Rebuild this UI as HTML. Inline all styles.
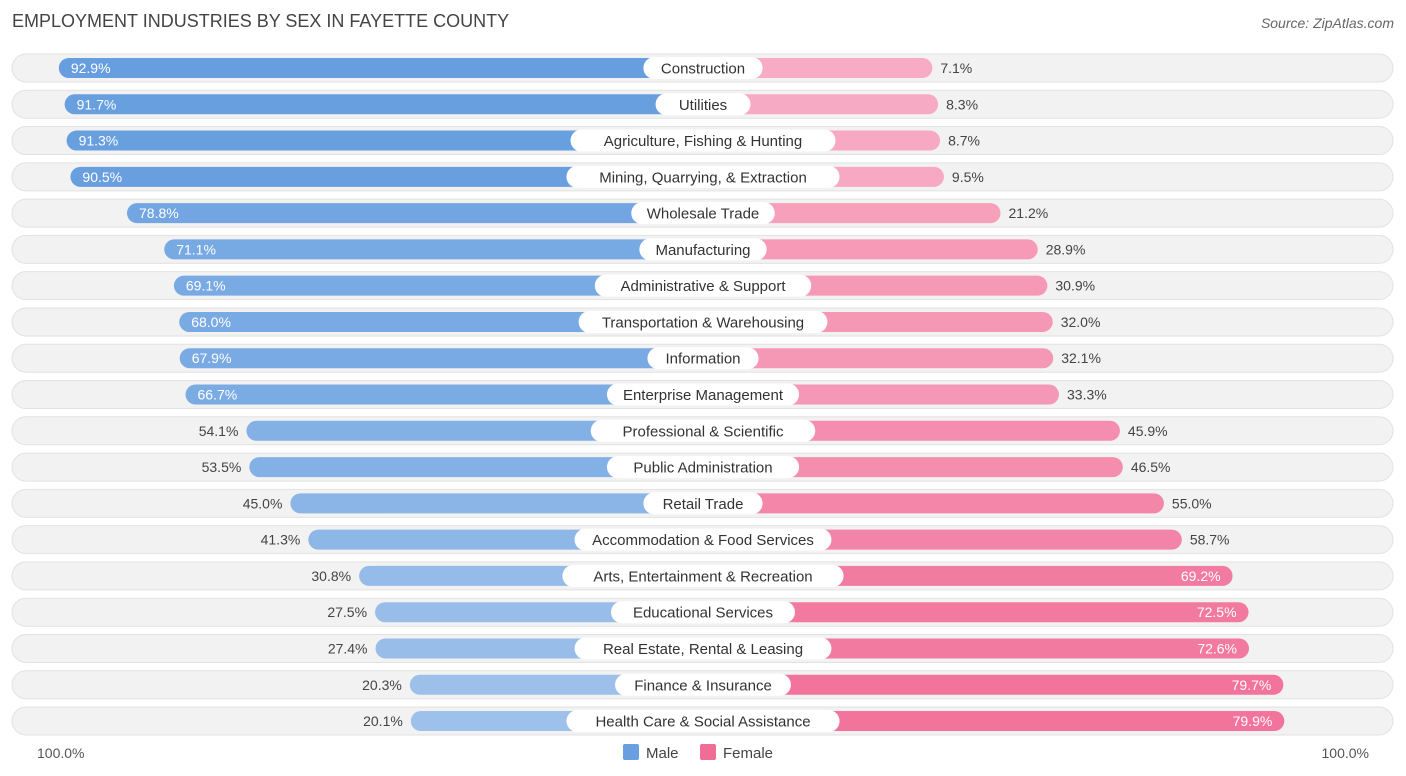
<!DOCTYPE html>
<html><head><meta charset="utf-8"><style>
body{margin:0;width:1406px;height:776px;background:#fff;font-family:"Liberation Sans",sans-serif;overflow:hidden;position:relative}
.t{position:absolute}
</style></head><body>
<div class="t" style="left:12px;top:11px;font-size:18px;color:#444">EMPLOYMENT INDUSTRIES BY SEX IN FAYETTE COUNTY</div>
<div class="t" style="right:12px;top:15px;font-size:14px;color:#666;font-style:italic">Source: ZipAtlas.com</div>
<svg id="c" width="1406" height="776" style="position:absolute;left:0;top:0"></svg>
<script>
const categories=["Construction","Utilities","Agriculture, Fishing & Hunting","Mining, Quarrying, & Extraction","Wholesale Trade","Manufacturing","Administrative & Support","Transportation & Warehousing","Information","Enterprise Management","Professional & Scientific","Public Administration","Retail Trade","Accommodation & Food Services","Arts, Entertainment & Recreation","Educational Services","Real Estate, Rental & Leasing","Finance & Insurance","Health Care & Social Assistance"];
const maleValues=[92.9,91.7,91.3,90.5,78.8,71.1,69.1,68.0,67.9,66.7,54.1,53.5,45.0,41.3,30.8,27.5,27.4,20.3,20.1];
const femaleValues=[7.1,8.3,8.7,9.5,21.2,28.9,30.9,32.0,32.1,33.3,45.9,46.5,55.0,58.7,69.2,72.5,72.6,79.7,79.9];
const svg=document.getElementById('c'),NS='http://www.w3.org/2000/svg';
const cx=703,base=195,k=4.835,y0=68,pitch=36.28,bh=20;
function len(v){return base+k*v;}
function rowY(i){return y0+i*pitch;}
function mk(t,a){const e=document.createElementNS(NS,t);for(const n in a)e.setAttribute(n,a[n]);svg.appendChild(e);return e;}
function mix(c1,c2,t){return 'rgb('+c1.map((c,i)=>Math.round(c+(c2[i]-c)*t)).join(',')+')';}
categories.forEach((cat,i)=>{
 const y=rowY(i),m=maleValues[i],f=femaleValues[i];
 let e=mk('rect',{x:12,y:y-14,width:1381,height:28,rx:14,fill:'#f2f2f2',stroke:'#e2e2e2'});
 
 const ml=len(m),fl=len(f);
 e=mk('rect',{x:cx-ml,y:y-bh/2,width:ml,height:bh,rx:10,fill:mix([172,202,237],[98,155,222],m/100)});
 
 e=mk('rect',{x:cx,y:y-bh/2,width:fl,height:bh,rx:10,fill:mix([248,176,200],[240,100,145],f/100)});
 
 e=mk('rect',{x:cx,y:y-bh/2,width:10,height:bh,fill:mix([248,176,200],[240,100,145],f/100)});
 
 const tw=cat.length*8.1+22;
 e=mk('rect',{x:cx-tw/2,y:y-11,width:tw,height:22,rx:11,fill:'#fff'});
 
 e=mk('text',{x:cx,y:y+5.5,'text-anchor':'middle','font-size':15,fill:'#333'});e.textContent=cat;
 
 const mIn=m>60;
 e=mk('text',{x:mIn?cx-ml+12:cx-ml-8,y:y+5,'text-anchor':mIn?'start':'end','font-size':14,fill:mIn?'#fff':'#444'});e.textContent=m.toFixed(1)+'%';
 
 const fIn=f>60;
 e=mk('text',{x:fIn?cx+fl-12:cx+fl+8,y:y+5,'text-anchor':fIn?'end':'start','font-size':14,fill:fIn?'#fff':'#444'});e.textContent=f.toFixed(1)+'%';
 
});
let e=mk('text',{x:37,y:758,'font-size':14,fill:'#555'});e.textContent='100.0%';

e=mk('text',{x:1369,y:758,'font-size':14,fill:'#555','text-anchor':'end'});e.textContent='100.0%';

e=mk('rect',{x:623,y:744,width:16,height:16,rx:2,fill:'#6a9fdf'});

e=mk('text',{x:646,y:758,'font-size':15,fill:'#444'});e.textContent='Male';

e=mk('rect',{x:700,y:744,width:16,height:16,rx:2,fill:'#f06d96'});

e=mk('text',{x:723,y:758,'font-size':15,fill:'#444'});e.textContent='Female';

</script>
</body></html>
